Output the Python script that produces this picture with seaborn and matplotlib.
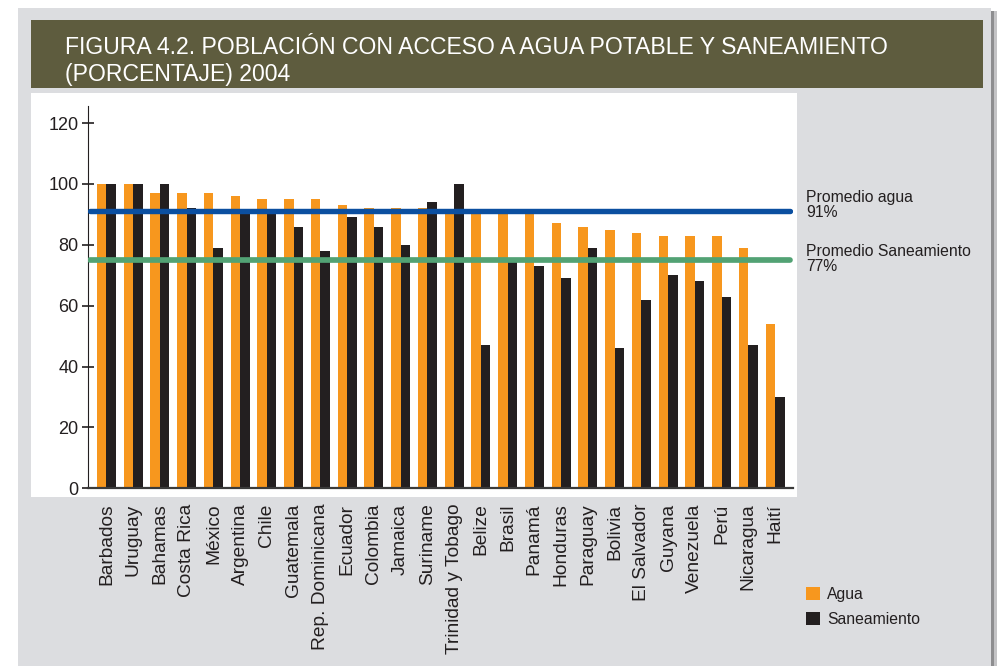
import matplotlib
matplotlib.use("Agg")
import matplotlib.pyplot as plt
from matplotlib import font_manager
from matplotlib.patches import Rectangle
import pandas as pd
import seaborn as sns

paises = ["Barbados", "Uruguay", "Bahamas", "Costa Rica", "México", "Argentina",
          "Chile", "Guatemala", "Rep. Dominicana", "Ecuador", "Colombia", "Jamaica",
          "Suriname", "Trinidad y Tobago", "Belize", "Brasil", "Panamá", "Honduras",
          "Paraguay", "Bolivia", "El Salvador", "Guyana", "Venezuela", "Perú",
          "Nicaragua", "Haití"]
agua = [100, 100, 97, 97, 97, 96, 95, 95, 95, 93, 92, 92, 92, 91, 91, 90, 90,
        87, 86, 85, 84, 83, 83, 83, 79, 54]
saneamiento = [100, 100, 100, 92, 79, 91, 91, 86, 78, 89, 86, 80, 94, 100, 47,
               75, 73, 69, 79, 46, 62, 70, 68, 63, 47, 30]
series = ["Agua", "Saneamiento"]
promedio_agua = 91
promedio_saneamiento = 75
textos_promedio = [("Promedio agua", "91%"), ("Promedio Saneamiento", "77%")]
y_ticks = [0, 20, 40, 60, 80, 100, 120]

titulo = ["FIGURA 4.2. POBLACIÓN CON ACCESO A AGUA POTABLE Y SANEAMIENTO",
          "(PORCENTAJE) 2004"]

NARANJA = "#f7971e"
NEGRO = "#231f20"
AZUL = "#0b4fa0"
VERDE = "#52a274"
OLIVA = "#5e5c3e"
GRIS = "#dcdde0"

df = pd.DataFrame({
    "pais": paises * 2,
    "valor": agua + saneamiento,
    "serie": [series[0]] * len(paises) + [series[1]] * len(paises),
})

sns.set_style("ticks")
plt.rcParams["font.family"] = ["Liberation Sans", "DejaVu Sans"]

W, H = 999, 666
fig = plt.figure(figsize=(W / 100, H / 100), dpi=100)
fig.patch.set_facecolor("white")


def rect(x0, y0, x1, y1, color, z):
    # rectangle in pixel coords (y from top)
    fig.add_artist(Rectangle((x0 / W, 1 - y1 / H), (x1 - x0) / W, (y1 - y0) / H,
                             transform=fig.transFigure, facecolor=color,
                             edgecolor="none", zorder=z))


rect(18, 8, 991, 666, GRIS, -10)
rect(991, 11, 994, 666, "#8e8e90", -10)
rect(994, 11, 997, 666, "#c4c4c6", -10)
rect(31, 20, 983, 88, OLIVA, -9)
rect(31, 93, 797, 497, "white", -9)

# titulo condensado si existe la version Narrow
nombres = {f.name for f in font_manager.fontManager.ttflist}
if "Liberation Sans Narrow" in nombres:
    fam_tit, tam_tit = ["Liberation Sans Narrow"], 18.8
else:
    fam_tit, tam_tit = ["Liberation Sans"], 16.6
for linea, yb in zip(titulo, [53.5, 81]):
    fig.text(65 / W, 1 - yb / H, linea, family=fam_tit, fontsize=tam_tit,
             color="white", va="baseline", ha="left")

ax = fig.add_axes([88.3 / W, 1 - 488.3 / H, (792.7 - 88.3) / W, (488.3 - 106) / H])
ax.set_facecolor("none")
sns.barplot(df, x="pais", y="valor", hue="serie",
            palette={series[0]: NARANJA, series[1]: NEGRO},
            width=0.71, gap=0, saturation=1, linewidth=0, ax=ax)

ax.axhline(promedio_agua, color=AZUL, lw=3.9, zorder=3, xmin=0.003, xmax=0.996)
ax.axhline(promedio_saneamiento, color=VERDE, lw=4.1, zorder=3, xmin=0.003, xmax=0.996)

ax.set_xlim(-0.68, len(paises) - 1 + 0.66)
ax.set_ylim(0, 125.6)
ax.set_yticks(y_ticks)
ax.set_xlabel("")
ax.set_ylabel("")
ax.tick_params(axis="y", direction="inout", length=8, width=1.2, pad=3,
               labelsize=13, colors=NEGRO)
ax.tick_params(axis="x", length=0, pad=11, labelsize=13.8, colors=NEGRO,
               labelrotation=90)
for s in ["top", "right"]:
    ax.spines[s].set_visible(False)
ax.spines["left"].set_linewidth(0.8)
ax.spines["left"].set_color(NEGRO)
ax.spines["bottom"].set_linewidth(1.6)
ax.spines["bottom"].set_color("#3a3a3a")

# textos de los promedios
for (l1, l2), yb in zip(textos_promedio, [(201.7, 216.7), (256, 271)]):
    fig.text(806.5 / W, 1 - yb[0] / H, l1, fontsize=11.3, color=NEGRO, va="baseline")
    fig.text(806.5 / W, 1 - yb[1] / H, l2, fontsize=11.3, color=NEGRO, va="baseline")

handles, labels = ax.get_legend_handles_labels()
ax.get_legend().remove()
fig.legend(handles, labels, loc="upper left", bbox_to_anchor=(806 / W, 1 - 587 / H),
           frameon=False, fontsize=11.3, handlelength=0.9, handleheight=0.9,
           handletextpad=0.45, labelspacing=0.62, borderpad=0, borderaxespad=0,
           labelcolor=NEGRO)

fig.savefig("out.png", dpi=100, facecolor=fig.get_facecolor())
